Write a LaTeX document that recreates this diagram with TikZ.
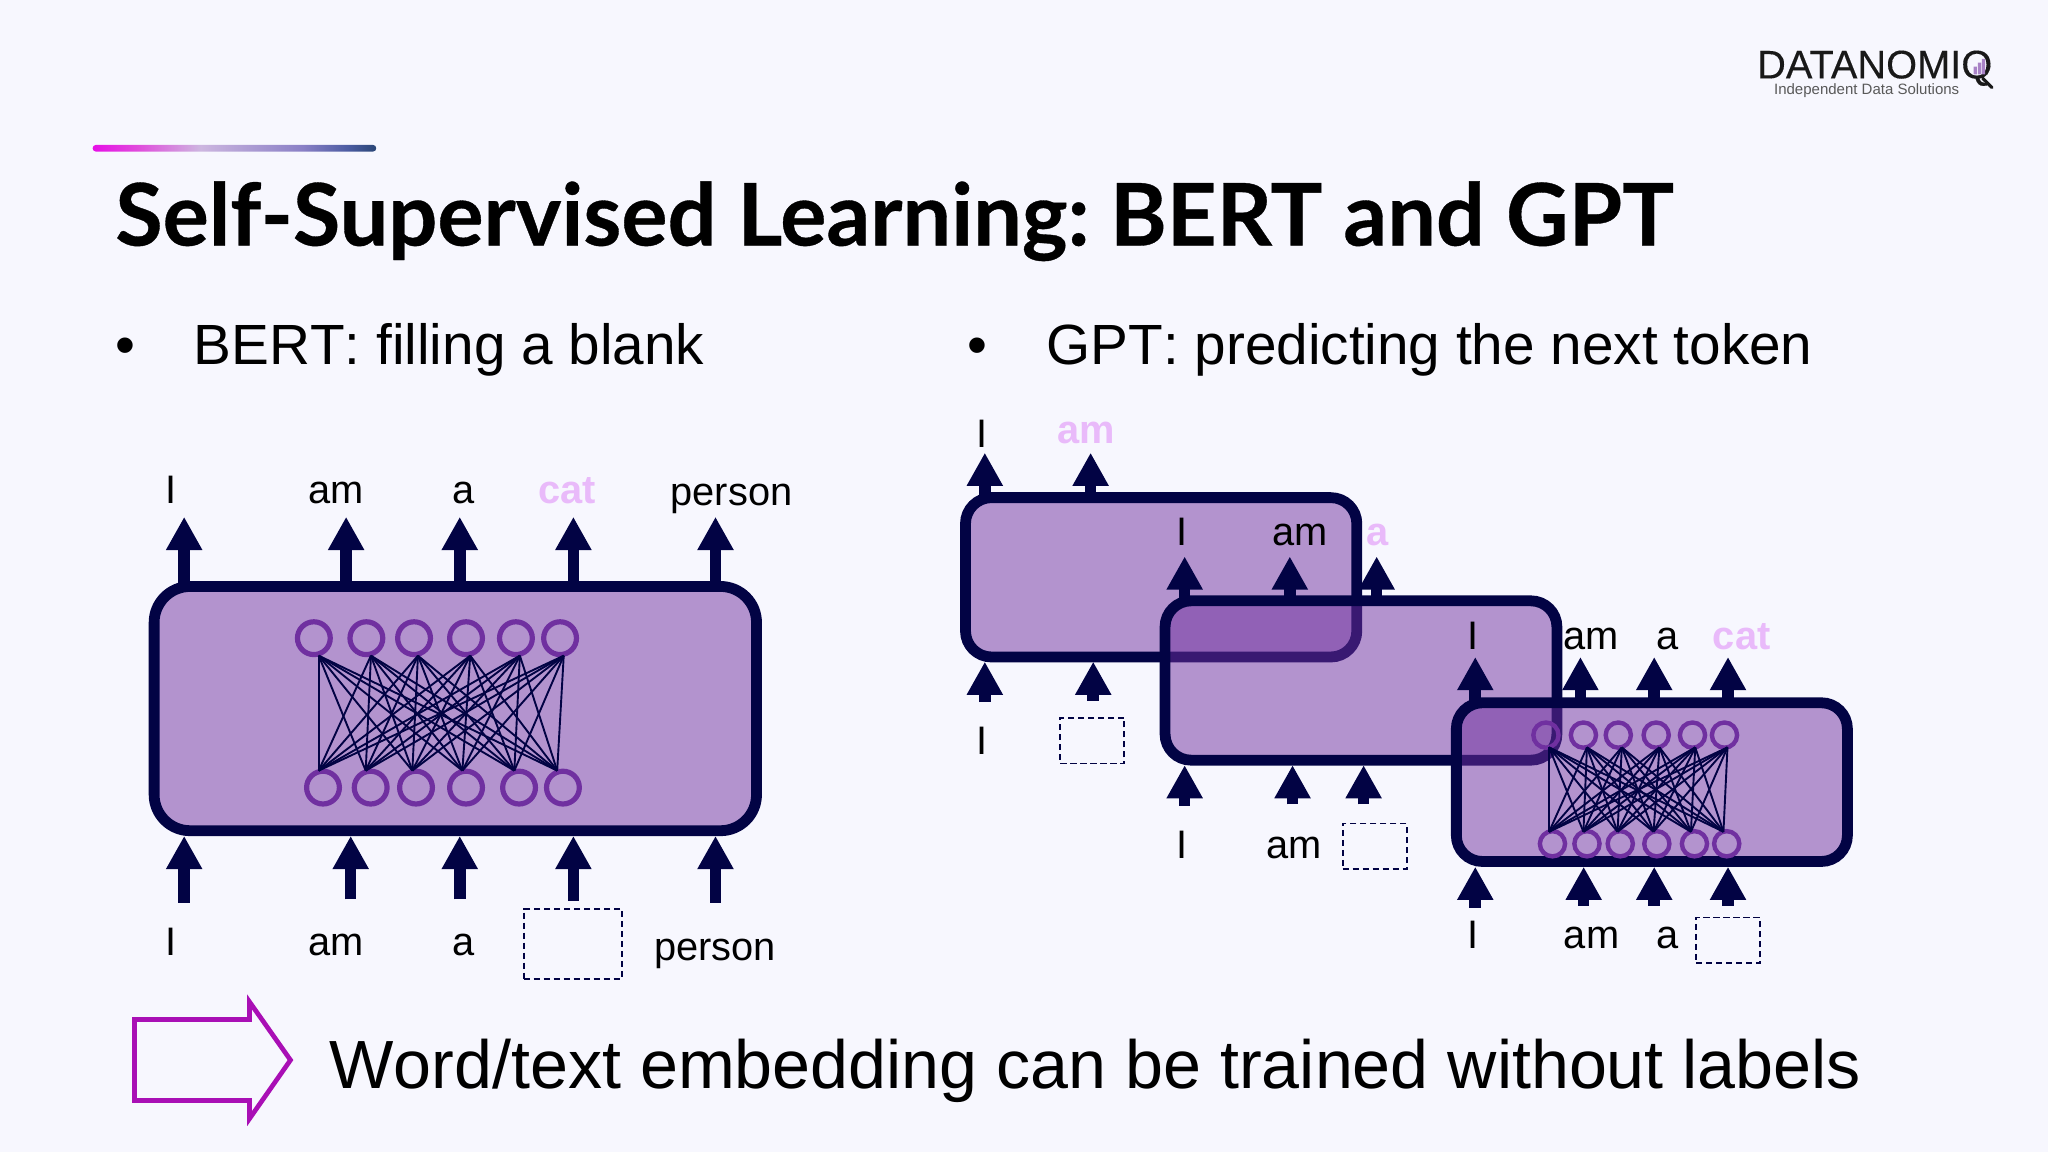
\documentclass[tikz,border=0pt]{standalone}
\usepackage{fontspec}
\setmainfont{Liberation Sans}[Kerning=Off]
\newfontfamily\titlefont{Lato}[FakeBold=0.4]
\newfontfamily\logofont{Liberation Sans}[FakeBold=0.25]
\usetikzlibrary{arrows.meta}
\definecolor{bgc}{HTML}{F7F7FE}
\definecolor{navy}{HTML}{020344}
\definecolor{purp}{HTML}{7030A0}
\definecolor{lite}{HTML}{E9BAFA}
\definecolor{mag}{HTML}{A90FB5}
\definecolor{accA}{HTML}{E60FE6}
\definecolor{accB}{HTML}{E04CDC}
\definecolor{accC}{HTML}{CDB6E0}
\definecolor{accD}{HTML}{8A80C6}
\definecolor{accE}{HTML}{4C5CA2}
\definecolor{accF}{HTML}{2A4676}
\pgfdeclarehorizontalshading{accentbar}{100bp}{color(0bp)=(accA);
 color(25bp)=(accA); color(33bp)=(accB); color(44bp)=(accC); color(62bp)=(accD); color(70bp)=(accE); color(75bp)=(accF); color(100bp)=(accF)}
\def\uu{0.65306pt}
\tikzset{
 x=0.65306pt,y=-0.65306pt,
 bigbox/.style={draw=navy,line width=5.4pt,fill=purp,fill opacity=0.5,rounded corners=#1,inner sep=0pt},
 blockarrow/.style={draw=navy,line width=5.8pt,-{Triangle[width=17pt,length=16.6pt]}},
 neuron/.style={circle,draw=purp,line width=2.6pt,inner sep=0pt,minimum size=16.4pt},
 smallneuron/.style={circle,draw=purp,line width=2.2pt,inner sep=0pt,minimum size=12.6pt},
 syn/.style={draw=navy,line width=0.95pt},
 word/.style={anchor=base,inner sep=0pt,font=\fontsize{19.9pt}{24pt}\selectfont,text=black},
 hidden/.style={anchor=base,inner sep=0pt,font=\fontsize{19.9pt}{24pt}\selectfont\bfseries,text=lite},
 head/.style={anchor=base west,inner sep=0pt,font=\fontsize{28.35pt}{34pt}\selectfont,text=black},
 blank/.style={draw=navy,line width=0.9pt,dash pattern=on 3.2pt off 1.8pt,inner sep=0pt},
}
\newcommand{\blk}[4]{\coordinate (#1s) at (#2,#3); \coordinate (#1e) at (#2,#4); \draw[blockarrow] (#1s) -- (#1e);}
\begin{document}
\begin{tikzpicture}
\useasboundingbox (0,0) rectangle (1568,882);
\fill[bgc] (0,0) rectangle (1568,882);
% logo
\node[anchor=base west,inner sep=0pt,font=\logofont\fontsize{19.9pt}{24pt}\selectfont,text=black!90] (logo) at (1345,60) {DATANOMIQ};
\node[anchor=base west,inner sep=0pt,font=\fontsize{7.5pt}{9pt}\selectfont,text=black!65] (logosub) at (1358,72.3) {Independent Data Solutions};
\fill[purp!60] (1511,51) rectangle (1513.5,57) (1514.2,48) rectangle (1516.7,57) (1517.4,45) rectangle (1519.9,57);
\draw[black!90,line width=1.6pt,line cap=round] (1518,60) -- (1525,67);
% accent
\path[shading=accentbar,rounded corners=1.5pt] (71,111) rectangle (288,116);
% title
\node[anchor=base west,inner sep=0pt,font=\titlefont\bfseries\fontsize{43.2pt}{50pt}\selectfont] (title) at (88,188) {Self-Supervised Learning:\hspace{-0.09em} BERT and GPT};
\node[anchor=base,inner sep=0pt,font=\fontsize{28.4pt}{34pt}\selectfont] (b1) at (96,279) {•};
\node[head] (bert) at (148,279) {BERT: filling a blank};
\node[anchor=base,inner sep=0pt,font=\fontsize{28.4pt}{34pt}\selectfont] (b2) at (748,279) {•};
\node[head] (gpt) at (801,279) {GPT: predicting the next token};

% BERT
\node[bigbox=18pt,minimum width={461.2*\uu},minimum height={187*\uu}] (bbox) at (348.6,542.5) {};
\foreach \n/\x in {1/141,2/265,3/352,4/439,5/547.8}{\blk{bt\n}{\x}{449}{395.7}}
\foreach \n/\x/\e in {1/141/691,2/268.5/688.5,3/352/688.5,4/439/689.5,5/547.8/691}{\blk{bb\n}{\x}{\e}{640}}
\foreach \n/\x in {1/240.3,2/280.5,3/317,4/356.8,5/395,6/428.8}{\node[neuron] (bn\n) at (\x,488.6) {};}
\foreach \n/\x in {1/247.3,2/283.8,3/318.5,4/356.8,5/397.4,6/431}{\node[neuron] (bm\n) at (\x,603) {};}
\foreach \n/\x in {1/244,2/284,3/320,4/360,5/398,6/431.6}{\coordinate (bna\n) at (\x,502);}
\foreach \n/\x in {1/244,2/280,3/315.7,4/354,5/393.8,6/426.6}{\coordinate (bma\n) at (\x,590);}
\foreach \i in {1,...,6}{\foreach \j in {1,...,6}{\draw[syn] (bna\i) -- (bma\j);}}
\node[word] (w1) at (130.8,385.5) {I};
\node[word] (w2) at (257.5,385.5) {am};
\node[word] (w3) at (354.6,385.5) {a};
\node[hidden] (w4) at (434,385.5) {cat};
\node[word] (w5) at (560,386.7) {person};
\node[word] (w6) at (130.8,731.5) {I};
\node[word] (w7) at (257.5,731.5) {am};
\node[word] (w8) at (354.6,731.5) {a};
\node[blank,minimum width={75.3*\uu},minimum height={53.3*\uu}] (bb) at (438.6,722.6) {};
\node[word] (w9) at (547.5,735) {person};

% GPT A
\node[bigbox=13pt,minimum width={299.6*\uu},minimum height={122*\uu}] (ga) at (889,442) {};
\blk{at1}{754}{381}{346.6}
\blk{at2}{835}{381}{346.6}
\blk{ab1}{754}{537.6}{506.6}
\blk{ab2}{837}{536.5}{506.6}
\node[word] (a1) at (752,342.8) {I};
\node[hidden] (a2) at (831.7,339.5) {am};
\node[word] (a3) at (752,577.6) {I};
\node[blank,minimum width={49*\uu},minimum height={35*\uu}] (ablank) at (836.2,567) {};
% GPT B
\node[bigbox=13pt,minimum width={300*\uu},minimum height={122*\uu}] (gb) at (1042,521) {};
\blk{et1}{907}{460}{426}
\blk{et2}{987.5}{460}{426}
\blk{et3}{1054}{460}{426}
\blk{eb1}{907}{617}{585.8}
\blk{eb2}{989.6}{615.8}{585.8}
\blk{eb3}{1044}{615.8}{585.8}
\node[word] (e1) at (905,417.5) {I};
\node[word] (e2) at (995.4,417.5) {am};
\node[hidden] (e3) at (1054.6,417.5) {a};
\node[word] (e4) at (905,657.2) {I};
\node[word] (e5) at (990.5,657.2) {am};
\node[blank,minimum width={49*\uu},minimum height={35*\uu}] (eblank) at (1052.5,648) {};
% GPT C
\node[bigbox=13pt,minimum width={299.4*\uu},minimum height={121.5*\uu}] (gc) at (1264.7,598.8) {};
\blk{ct1}{1129.5}{538}{503}
\blk{ct2}{1210}{538}{503}
\blk{ct3}{1266.5}{538}{503}
\blk{ct4}{1323}{538}{503}
\blk{cb1}{1129.5}{695}{663.6}
\blk{cb2}{1212.5}{693.5}{663.6}
\blk{cb3}{1266.5}{693.5}{663.6}
\blk{cb4}{1323}{693.5}{663.6}
\foreach \n/\x in {1/1183.6,2/1212.3,3/1239,4/1268,5/1295.8,6/1320.3}{\node[smallneuron] (cn\n) at (\x,562.8) {};}
\foreach \n/\x in {1/1188.6,2/1215,3/1240.5,4/1268.5,5/1297.3,6/1322}{\node[smallneuron] (cm\n) at (\x,646) {};}
\foreach \n/\x in {1/1186,2/1215,3/1241.7,4/1270.5,5/1297.9,6/1322.6}{\coordinate (cna\n) at (\x,572.2);}
\foreach \n/\x in {1/1186,2/1212.3,3/1238.4,4/1266,5/1294.6,6/1319.5}{\coordinate (cma\n) at (\x,636.8);}
\foreach \i in {1,...,6}{\foreach \j in {1,...,6}{\draw[syn] (cna\i) -- (cma\j);}}
\node[word] (c1) at (1127.5,497) {I};
\node[word] (c2) at (1218,497) {am};
\node[word] (c3) at (1277,497) {a};
\node[hidden] (c4) at (1333.5,497) {cat};
\node[word] (c5) at (1127.5,726.5) {I};
\node[word] (c6) at (1218.5,726.5) {am};
\node[word] (c7) at (1276.8,726.5) {a};
\node[blank,minimum width={49*\uu},minimum height={35*\uu}] (cblank) at (1323,720) {};

% conclusion
\draw[mag,line width=2.35pt,miter limit=10] (103,780.6) -- (191,780.6) -- (191,767) -- (222.4,811.6) -- (191,856.5) -- (191,842.6) -- (103,842.6) -- cycle;
\node[anchor=base west,inner sep=0pt,font=\fontsize{34.1pt}{40pt}\selectfont] (concl) at (252,833) {Word/text embedding can be trained without labels};
\end{tikzpicture}
\end{document}
